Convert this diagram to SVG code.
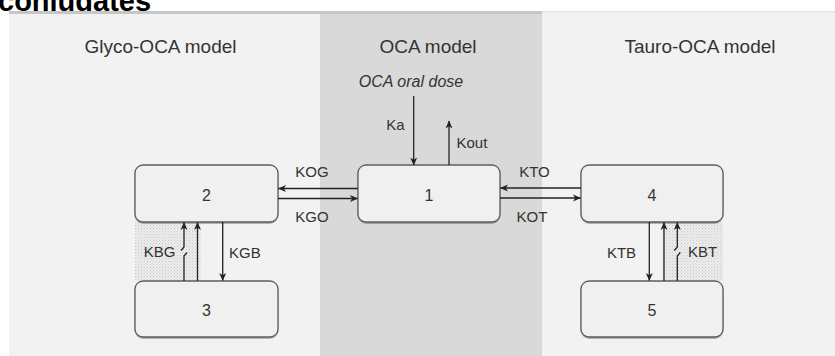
<svg xmlns="http://www.w3.org/2000/svg" width="835" height="356" viewBox="0 0 835 356">
<style>
.t{font-family:"Liberation Sans",Arial,sans-serif;fill:#333}
.h{font-size:19px;text-anchor:middle}
.k{font-size:15px}
.n{font-size:16px;text-anchor:middle}
.box{fill:#f0f0f0;stroke:#5e5e5e;stroke-width:1.3}
.c{fill:none;stroke:#222;stroke-width:1.3}
.a{marker-end:url(#ah)}
</style>
<defs>
<marker id="ah" viewBox="0 0 8 8" refX="7.5" refY="4" markerWidth="8" markerHeight="8" markerUnits="userSpaceOnUse" orient="auto">
<path d="M0,0.5 L8,4 L0,7.5 L2.2,4 z" fill="#222"/>
</marker>
<pattern id="dots" width="3" height="3" patternUnits="userSpaceOnUse">
<rect width="3" height="3" fill="#ececec"/>
<rect x="0" y="0" width="1" height="1" fill="#c9c9c9"/>
<rect x="1.5" y="1.5" width="1" height="1" fill="#d4d4d4"/>
</pattern>
<filter id="sh" x="-5%" y="-5%" width="110%" height="115%">
<feDropShadow dx="0" dy="1" stdDeviation="0.6" flood-color="#000" flood-opacity="0.35"/>
</filter>
</defs>
<rect width="835" height="356" fill="#fff"/>
<text x="-2" y="10.5" style="font-family:'Liberation Sans',Arial,sans-serif;font-size:29px;font-weight:bold;fill:#000">conjugates</text>
<g id="panels">
<rect x="9" y="12" width="826" height="344" fill="#f2f2f2"/>
<rect x="320" y="12" width="222" height="344" fill="#d9d9d9"/>
<rect x="9" y="11" width="533" height="3" fill="#c6c6c6"/>
<rect x="542" y="11" width="293" height="1.5" fill="#e4e4e4"/>
<rect x="135" y="222" width="66" height="59" fill="url(#dots)"/>
<rect x="662" y="222" width="61" height="59" fill="url(#dots)"/>
</g>
<text class="t h" x="160.5" y="53">Glyco-OCA model</text>
<text class="t h" x="428" y="53">OCA model</text>
<text class="t h" x="700" y="53">Tauro-OCA model</text>
<text class="t" x="411" y="87" style="font-size:16px;font-style:italic;text-anchor:middle">OCA oral dose</text>
<g id="node1"><rect class="box" filter="url(#sh)" x="358" y="165" width="142" height="57" rx="8"/><text class="t n" x="429" y="201">1</text></g>
<g id="node2"><rect class="box" filter="url(#sh)" x="135" y="165" width="143" height="57" rx="8"/><text class="t n" x="206.5" y="201">2</text></g>
<g id="node3"><rect class="box" filter="url(#sh)" x="135" y="281" width="143" height="56" rx="8"/><text class="t n" x="206.5" y="316">3</text></g>
<g id="node4"><rect class="box" filter="url(#sh)" x="581" y="165" width="142" height="57" rx="8"/><text class="t n" x="652" y="201">4</text></g>
<g id="node5"><rect class="box" filter="url(#sh)" x="581" y="281" width="142" height="56" rx="8"/><text class="t n" x="652" y="316">5</text></g>
<g id="connectors">
<path class="c a" d="M413.7,96 V165"/>
<path class="c a" d="M449,165 V121"/>
<path class="c a" d="M358,188.5 H278.5"/>
<path class="c a" d="M278,198.5 H357.5"/>
<path class="c a" d="M581,188 H500.5"/>
<path class="c a" d="M500,198 H580.5"/>
<path class="c a" d="M222.7,222 V280.5"/>
<path class="c a" d="M197.5,281 V222.5"/>
<path class="c" d="M184,281 V256 L187,252.5"/>
<path class="c a" d="M181,250.5 L184,247 V222.5"/>
<path class="c a" d="M649.3,222 V280.5"/>
<path class="c a" d="M664,281 V222.5"/>
<path class="c" d="M677.3,281 V256 L680.3,252.5"/>
<path class="c a" d="M674.3,250.5 L677.3,247 V222.5"/>
</g>
<text class="t k" x="395.5" y="130" text-anchor="middle">Ka</text>
<text class="t k" x="456.5" y="148">Kout</text>
<text class="t k" x="312" y="177" text-anchor="middle">KOG</text>
<text class="t k" x="312" y="221.5" text-anchor="middle">KGO</text>
<text class="t k" x="534.5" y="177" text-anchor="middle">KTO</text>
<text class="t k" x="532" y="221.5" text-anchor="middle">KOT</text>
<text class="t k" x="159.5" y="257" text-anchor="middle">KBG</text>
<text class="t k" x="229" y="258">KGB</text>
<text class="t k" x="621.5" y="258" text-anchor="middle">KTB</text>
<text class="t k" x="688" y="256.5">KBT</text>
</svg>
